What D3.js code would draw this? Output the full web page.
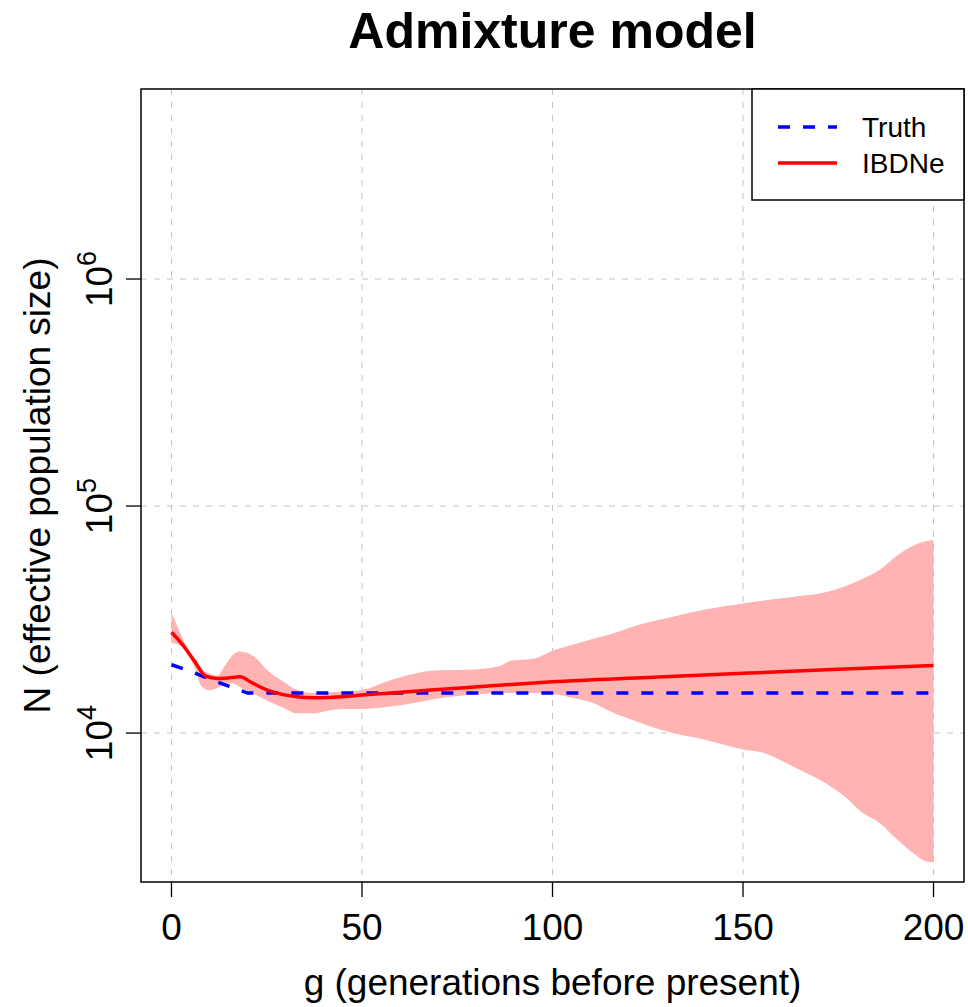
<!DOCTYPE html>
<html>
<head>
<meta charset="utf-8">
<script src="https://cdn.jsdelivr.net/npm/d3@7"></script>
<style>
  html, body { margin: 0; padding: 0; background: #fff; }
  svg { display: block; font-family: "Liberation Sans", Arial, sans-serif; }
</style>
</head>
<body>
<div id="chart"></div>
<script>
// --- Data ---
const truthG = [0, 5, 10, 15, 20, 200];
const truthN = [20000, 18700, 17300, 16100, 15000, 15000];

const ibdG = [0, 3, 6, 9, 12, 15, 18, 21, 25, 29, 33, 37, 41, 45, 50, 56, 62, 68, 75, 85, 100, 125, 150, 175, 200];
const ibdN = [27800, 24400, 20800, 17800, 17400, 17500, 17700, 16700, 15500, 14800, 14450, 14320, 14350, 14470, 14700,
              14950, 15200, 15460, 15750, 16200, 16830, 17580, 18330, 19100, 19860];

const ciG = [0, 3, 6, 8, 10, 12, 14, 16, 18, 20, 22, 25, 29, 33, 37, 41, 45, 50, 57, 64, 70, 78, 86, 89, 95, 100,
             106, 111, 115, 122, 131, 140, 150, 155, 164, 171, 177, 181, 186, 190, 195, 198, 200];
const ciUpper = [34000, 26000, 20500, 19000, 18300, 17900, 19800, 22000, 22900, 22500, 21500, 19000, 17000, 15460,
                 15000, 15100, 15200, 15460, 17000, 18300, 18900, 19000, 19700, 20800, 21240, 23060, 24700, 26100,
                 27200, 29800, 32400, 35000, 37240, 38300, 40000, 41500, 44500, 47500, 52500, 59600, 67300, 70000, 70800];
const ciLower = [25000, 23800, 19500, 16000, 15460, 15800, 16300, 16560, 15900, 15300, 14800, 13900, 13000, 12220,
                 12200, 12550, 12760, 12760, 13050, 13600, 14200, 14700, 15000, 15000, 15000, 14860, 14200, 13500,
                 12500, 11250, 10050, 9350, 8470, 8220, 7000, 6100, 5200, 4500, 4000, 3450, 2930, 2720, 2700];

const xTicks = [0, 50, 100, 150, 200];
const yTicks = [1e4, 1e5, 1e6];
const yTickExp = ["4", "5", "6"];

const legendLabels = ["Truth", "IBDNe"];

// --- Layout ---
const W = 968, H = 1007;
const box = { left: 141, right: 964, top: 89, bottom: 882 };

const x = d3.scaleLinear().domain([-8, 208]).range([box.left, box.right]);
const y = d3.scaleLog().domain([Math.pow(10, 3.344), Math.pow(10, 6.837)]).range([box.bottom, box.top]);

const svg = d3.select("#chart").append("svg").attr("width", W).attr("height", H);

svg.append("defs").append("clipPath").attr("id", "plotclip")
  .append("rect")
  .attr("x", box.left).attr("y", box.top)
  .attr("width", box.right - box.left).attr("height", box.bottom - box.top);

// grid
const grid = svg.append("g").attr("stroke", "#c4c4c4").attr("stroke-width", 1).attr("stroke-dasharray", "6,7");
grid.selectAll("line.gx").data(xTicks).join("line")
  .attr("x1", d => x(d)).attr("x2", d => x(d))
  .attr("y1", box.top).attr("y2", box.bottom);
grid.selectAll("line.gy").data(yTicks).join("line")
  .attr("y1", d => y(d)).attr("y2", d => y(d))
  .attr("x1", box.left).attr("x2", box.right);

const plot = svg.append("g").attr("clip-path", "url(#plotclip)");

// confidence band
const ci = ciG.map((g, i) => ({ g, lo: ciLower[i], hi: ciUpper[i] }));
plot.append("path")
  .datum(ci)
  .attr("fill", "#ffb3b3")
  .attr("d", d3.area().curve(d3.curveMonotoneX)
    .x(d => x(d.g)).y0(d => y(d.lo)).y1(d => y(d.hi)));

// truth
plot.append("path")
  .datum(truthG.map((g, i) => ({ g, n: truthN[i] })))
  .attr("fill", "none")
  .attr("stroke", "#0000ff")
  .attr("stroke-width", 3.5)
  .attr("stroke-dasharray", "12,13")
  .attr("d", d3.line().x(d => x(d.g)).y(d => y(d.n)));

// IBDNe estimate
plot.append("path")
  .datum(ibdG.map((g, i) => ({ g, n: ibdN[i] })))
  .attr("fill", "none")
  .attr("stroke", "#ff0000")
  .attr("stroke-width", 3.5)
  .attr("d", d3.line().curve(d3.curveMonotoneX).x(d => x(d.g)).y(d => y(d.n)));

// frame
svg.append("rect")
  .attr("x", box.left).attr("y", box.top)
  .attr("width", box.right - box.left).attr("height", box.bottom - box.top)
  .attr("fill", "none").attr("stroke", "#000").attr("stroke-width", 1.5);

// x axis
const xAxis = svg.append("g");
xAxis.selectAll("line").data(xTicks).join("line")
  .attr("x1", d => x(d)).attr("x2", d => x(d))
  .attr("y1", box.bottom).attr("y2", box.bottom + 15)
  .attr("stroke", "#000").attr("stroke-width", 1.3);
xAxis.selectAll("text").data(xTicks).join("text")
  .attr("x", d => x(d)).attr("y", 940)
  .attr("text-anchor", "middle")
  .attr("font-size", 37)
  .text(d => d);

// y axis
const yAxis = svg.append("g");
yAxis.selectAll("line").data(yTicks).join("line")
  .attr("y1", d => y(d)).attr("y2", d => y(d))
  .attr("x1", box.left - 15).attr("x2", box.left)
  .attr("stroke", "#000").attr("stroke-width", 1.3);
yAxis.selectAll("text").data(yTicks).join("text")
  .attr("transform", d => `translate(112,${y(d)}) rotate(-90)`)
  .attr("text-anchor", "middle")
  .attr("font-size", 37)
  .each(function (d, i) {
    const t = d3.select(this);
    t.append("tspan").text("10");
    t.append("tspan").attr("font-size", 27).attr("dy", -16).text(yTickExp[i]);
  });

// axis titles
svg.append("text")
  .attr("x", (box.left + box.right) / 2).attr("y", 995)
  .attr("text-anchor", "middle").attr("font-size", 37)
  .text("g (generations before present)");

svg.append("text")
  .attr("transform", `translate(50,${(box.top + box.bottom) / 2}) rotate(-90)`)
  .attr("text-anchor", "middle").attr("font-size", 37)
  .text("N (effective population size)");

// title
svg.append("text")
  .attr("x", (box.left + box.right) / 2).attr("y", 48)
  .attr("text-anchor", "middle").attr("font-size", 50).attr("font-weight", "bold")
  .text("Admixture model");

// legend
const lg = svg.append("g");
lg.append("rect")
  .attr("x", 752).attr("y", box.top)
  .attr("width", box.right - 752).attr("height", 200 - box.top)
  .attr("fill", "#fff").attr("stroke", "#000").attr("stroke-width", 1.5);
const legendStyles = [
  { color: "#0000ff", dash: "12,13", width: 3.5 },
  { color: "#ff0000", dash: null, width: 3.5 }
];
legendLabels.forEach((lab, i) => {
  const yy = 127 + i * 36;
  lg.append("line")
    .attr("x1", 778).attr("x2", 837).attr("y1", yy).attr("y2", yy)
    .attr("stroke", legendStyles[i].color)
    .attr("stroke-width", legendStyles[i].width)
    .attr("stroke-dasharray", legendStyles[i].dash);
  lg.append("text")
    .attr("x", 862).attr("y", yy + 10)
    .attr("font-size", 28)
    .text(lab);
});
</script>
</body>
</html>
